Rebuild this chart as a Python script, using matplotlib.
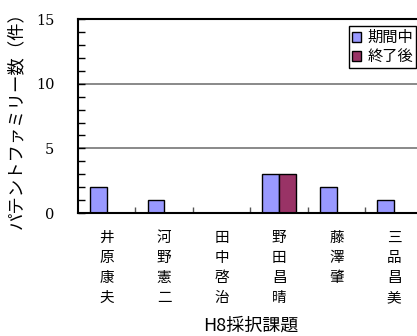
import numpy as np
import matplotlib.pyplot as plt
from matplotlib.ticker import MultipleLocator, FixedLocator

plt.rcParams['font.family'] = ['Noto Sans CJK JP', 'DejaVu Sans']

# 採択課題ごとのパテントファミリー数
names = ['井原康夫', '河野憲二', '田中啓治', '野田昌晴', '藤澤肇', '三品昌美']
during = [2, 1, 0, 3, 2, 1]   # 期間中
after = [0, 0, 0, 3, 0, 0]    # 終了後
series_labels = ['期間中', '終了後']
colors = ['#9999FF', '#993366']

fig = plt.figure(figsize=(4.17, 3.36), dpi=100)
ax = fig.add_axes([0.187, 0.366, 0.827, 0.577])

x = np.arange(len(names))
w = 0.29
ax.bar(x - w / 2, during, w, color=colors[0], edgecolor='black', linewidth=1.0,
       label=series_labels[0], zorder=3)
ax.bar(x + w / 2, after, w, color=colors[1], edgecolor='black', linewidth=1.0,
       label=series_labels[1], zorder=3)

ax.set_xlim(-0.5, len(names) - 0.5)
ax.set_ylim(0, 15)

# y axis: major every 5, ticks every 1, all pointing inward
ax.yaxis.set_major_locator(MultipleLocator(5))
ax.yaxis.set_minor_locator(MultipleLocator(1))
ax.tick_params(axis='y', which='both', direction='in', length=5, width=1.0,
               pad=17)
for lab in ax.get_yticklabels():
    lab.set_family(['DejaVu Serif'])
    lab.set_fontsize(10.5)
ax.grid(axis='y', which='major', color='#808080', linewidth=1.3, zorder=1)

# x axis: names written vertically, separators between categories
ax.set_xticks(x)
ax.set_xticklabels(['\n'.join(n) for n in names], fontsize=10.5,
                   linespacing=1.55, va='top')
ax.tick_params(axis='x', which='major', length=0, pad=13)
ax.xaxis.set_minor_locator(FixedLocator(x[:-1] + 0.5))
ax.tick_params(axis='x', which='minor', direction='in', length=4, width=1.0,
               color='#555555')

for side in ['left', 'bottom', 'top']:
    ax.spines[side].set_linewidth(1.5)
    ax.spines[side].set_zorder(4)
ax.spines['right'].set_visible(False)

ax.set_ylabel('パテントファミリー数（件）', fontsize=12.5, labelpad=8)
ax.set_xlabel('H8採択課題', fontsize=13, labelpad=8)

leg = ax.legend(loc='upper right', bbox_to_anchor=(416 / 417, 1 - 26 / 336),
                bbox_transform=fig.transFigure, borderaxespad=0,
                fontsize=11, handlelength=0.6, handleheight=0.6,
                handletextpad=0.4, borderpad=0.2, labelspacing=0.15,
                fancybox=False, framealpha=1, edgecolor='black')
leg.get_frame().set_linewidth(1.0)

fig.savefig('out.png', dpi=100)
